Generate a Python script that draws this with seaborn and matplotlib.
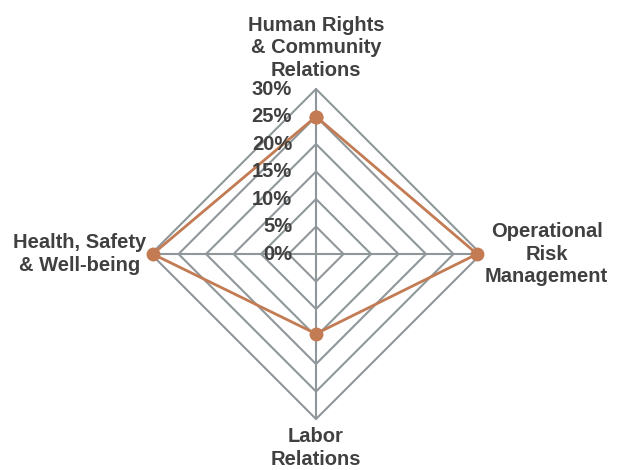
import numpy as np
import pandas as pd
import matplotlib
matplotlib.use('Agg')
import matplotlib.pyplot as plt
import matplotlib.transforms as mtransforms
import seaborn as sns

# Datos del gráfico
categorias = ['Human Rights\n& Community\nRelations', 'Operational\nRisk\nManagement',
              'Labor\nRelations', 'Health, Safety\n& Well-being']
valores = [0.25, 0.293, 0.145, 0.297]
niveles = [0.0, 0.05, 0.10, 0.15, 0.20, 0.25, 0.30]
etiquetas_niveles = ['0%', '5%', '10%', '15%', '20%', '25%', '30%']

sns.set_theme(style="white")
plt.rcParams['font.family'] = ['Liberation Sans', 'DejaVu Sans']

color_linea = '#c27b52'
color_red = '#8f979b'
color_texto = '#404040'

fig = plt.figure(figsize=(6.17, 4.70), dpi=100)
ax = fig.add_axes([0.2447, 0.1085, 0.535, 0.702], projection='polar')
ax.set_theta_offset(np.pi / 2)
ax.set_theta_direction(-1)

angulos = np.linspace(0, 2 * np.pi, len(categorias), endpoint=False)
angulos_cerrados = np.append(angulos, angulos[0])

# Red en forma de rombo
for r in niveles[1:]:
    ax.plot(angulos_cerrados, [r] * len(angulos_cerrados), color=color_red, lw=1.5,
            zorder=1, clip_on=False)
for a in angulos:
    ax.plot([a, a], [0, niveles[-1]], color=color_red, lw=1.5, zorder=1, clip_on=False)

# Serie
df = pd.DataFrame({'angulo': angulos_cerrados, 'valor': valores + [valores[0]]})
sns.lineplot(data=df, x='angulo', y='valor', sort=False, estimator=None, ax=ax,
             color=color_linea, lw=2.0, marker='o', markersize=10,
             markeredgewidth=0, zorder=3, clip_on=False)

ax.set_ylim(0, niveles[-1])
ax.set_xticks([])
ax.set_yticks([])
ax.set_xlabel('')
ax.set_ylabel('')
ax.grid(False)
ax.spines['polar'].set_visible(False)
ax.set_facecolor('none')

# Etiquetas de los niveles
trans_niveles = mtransforms.offset_copy(ax.transData, fig=fig, x=-24, y=0, units='dots')
for r, txt in zip(niveles, etiquetas_niveles):
    ax.text(0, r, txt, transform=trans_niveles, ha='right', va='center',
            fontsize=14.5, fontweight='bold', color=color_texto)

# Etiquetas de las categorías
desplazamientos = [(0, 9, 'center', 'bottom'), (4, 0, 'left', 'center'),
                   (0, -8, 'center', 'top'), (-5, 0, 'right', 'center')]
for a, cat, (dx, dy, ha, va) in zip(angulos, categorias, desplazamientos):
    tr = mtransforms.offset_copy(ax.transData, fig=fig, x=dx, y=dy, units='dots')
    ax.text(a, niveles[-1], cat, transform=tr, ha=ha, va=va, multialignment='center',
            fontsize=14.5, fontweight='bold', color=color_texto, linespacing=1.25)

plt.savefig('out.png', dpi=100)
plt.close()
